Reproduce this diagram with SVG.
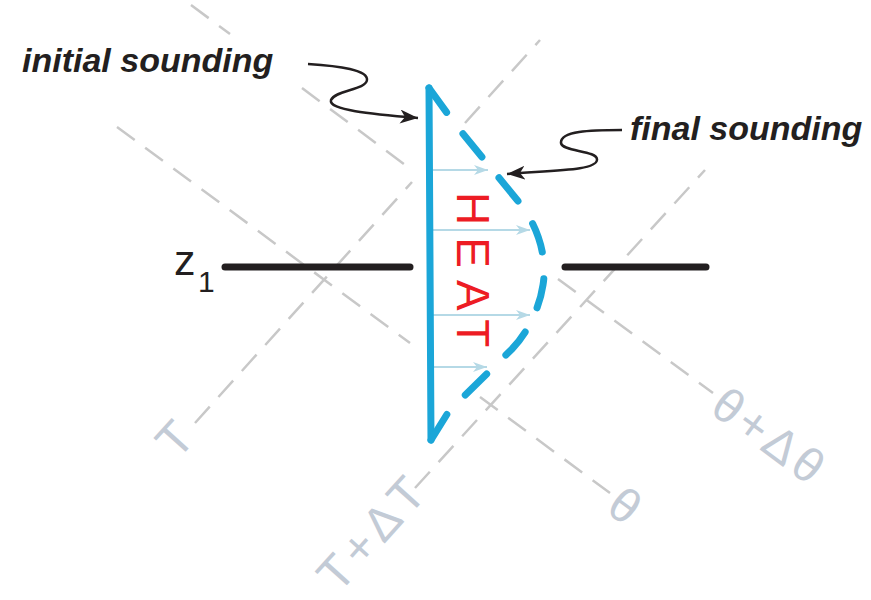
<svg xmlns="http://www.w3.org/2000/svg" width="871" height="600" viewBox="0 0 871 600">
<defs>
<style>
.iso{stroke:#c8c8c8;stroke-width:2.5;stroke-dasharray:22 13;fill:none}
.lbl{font-family:"Liberation Sans",Arial,sans-serif;font-size:48px;fill:#c3cbd6}
.note{font-family:"Liberation Sans",Arial,sans-serif;font-size:34px;font-weight:bold;font-style:italic;fill:#231f20}
.heatArrow{stroke:#b5d9e6;stroke-width:2;fill:none;marker-end:url(#ah)}
.callout{stroke:#231f20;stroke-width:2.5;fill:none;marker-end:url(#bh)}
</style>
<marker id="ah" markerWidth="16" markerHeight="12" refX="14" refY="5" orient="auto" markerUnits="userSpaceOnUse">
<path d="M0,0 L14,5 L0,10 L4,5 z" fill="#b5d9e6"/>
</marker>
<marker id="bh" markerWidth="20" markerHeight="16" refX="18" refY="7" orient="auto" markerUnits="userSpaceOnUse">
<path d="M0,0 L18,7 L0,14 L5,7 z" fill="#231f20"/>
</marker>
</defs>
<rect width="871" height="600" fill="#ffffff"/>

<g id="connectors">
<line class="iso" x1="191" y1="5" x2="230" y2="34"/>
<line class="iso" x1="302" y1="88" x2="412" y2="170"/>
<line class="iso" x1="558" y1="279" x2="713" y2="393"/>
<line class="iso" x1="117" y1="127" x2="410" y2="343"/>
<line class="iso" x1="480" y1="397" x2="610" y2="493"/>
<line class="iso" x1="195" y1="423" x2="412" y2="182"/>
<line class="iso" x1="465" y1="123" x2="540" y2="40"/>
<line class="iso" x1="415" y1="488" x2="705" y2="170"/>
<path class="callout" d="M308,64 C340,66 368,70 367,80 C366,90 335,90 331,100 C328,110 370,114 418,118"/>
<path class="callout" d="M622,130 C590,130 560,131 561,143 C562,152 598,150 597,160 C596,170 560,170 507,174"/>
<line class="heatArrow" x1="433" y1="170" x2="488" y2="170"/>
<line class="heatArrow" x1="433" y1="230" x2="530" y2="230"/>
<line class="heatArrow" x1="433" y1="315" x2="530" y2="315"/>
<line class="heatArrow" x1="433" y1="367" x2="487" y2="367"/>
</g>

<g id="level-z1">
<line x1="225" y1="267" x2="410" y2="267" stroke="#231f20" stroke-width="7" stroke-linecap="round"/>
<line x1="565" y1="267" x2="706" y2="267" stroke="#231f20" stroke-width="7" stroke-linecap="round"/>
<text x="174" y="275" font-family="Liberation Sans, Arial, sans-serif" font-size="43" fill="#231f20">z<tspan x="198" y="292" font-size="30">1</tspan></text>
</g>

<g id="initial-sounding">
<path d="M429,88 L431,440" stroke="#1ba6d8" stroke-width="7" stroke-linecap="round" fill="none"/>
<text class="note" x="22" y="72">initial sounding</text>
</g>

<g id="final-sounding">
<path d="M429,88 L455,124 L522,206 C536,225 548,255 543,285 C540,305 530,330 512,349 L449,411 L431,440" pathLength="414" stroke="#1ba6d8" stroke-width="7" stroke-linecap="round" stroke-dasharray="29 26" fill="none"/>
<text class="note" x="630" y="140">final sounding</text>
</g>

<g id="heat">
<text transform="translate(457,192) rotate(90)" font-family="Liberation Sans, Arial, sans-serif" font-size="46" letter-spacing="12" fill="#ed1c24">HEAT</text>
</g>

<g id="labels">
<text class="lbl" text-anchor="middle" transform="translate(187,450) rotate(-48)">T</text>
<text class="lbl" text-anchor="middle" letter-spacing="5" font-size="44" transform="translate(385,543) rotate(-48)">T+ΔT</text>
<text class="lbl" text-anchor="middle" transform="translate(615,519) rotate(36.5)">θ</text>
<text class="lbl" text-anchor="middle" letter-spacing="4" transform="translate(760,450) rotate(36.5)">θ+Δθ</text>
</g>
</svg>
